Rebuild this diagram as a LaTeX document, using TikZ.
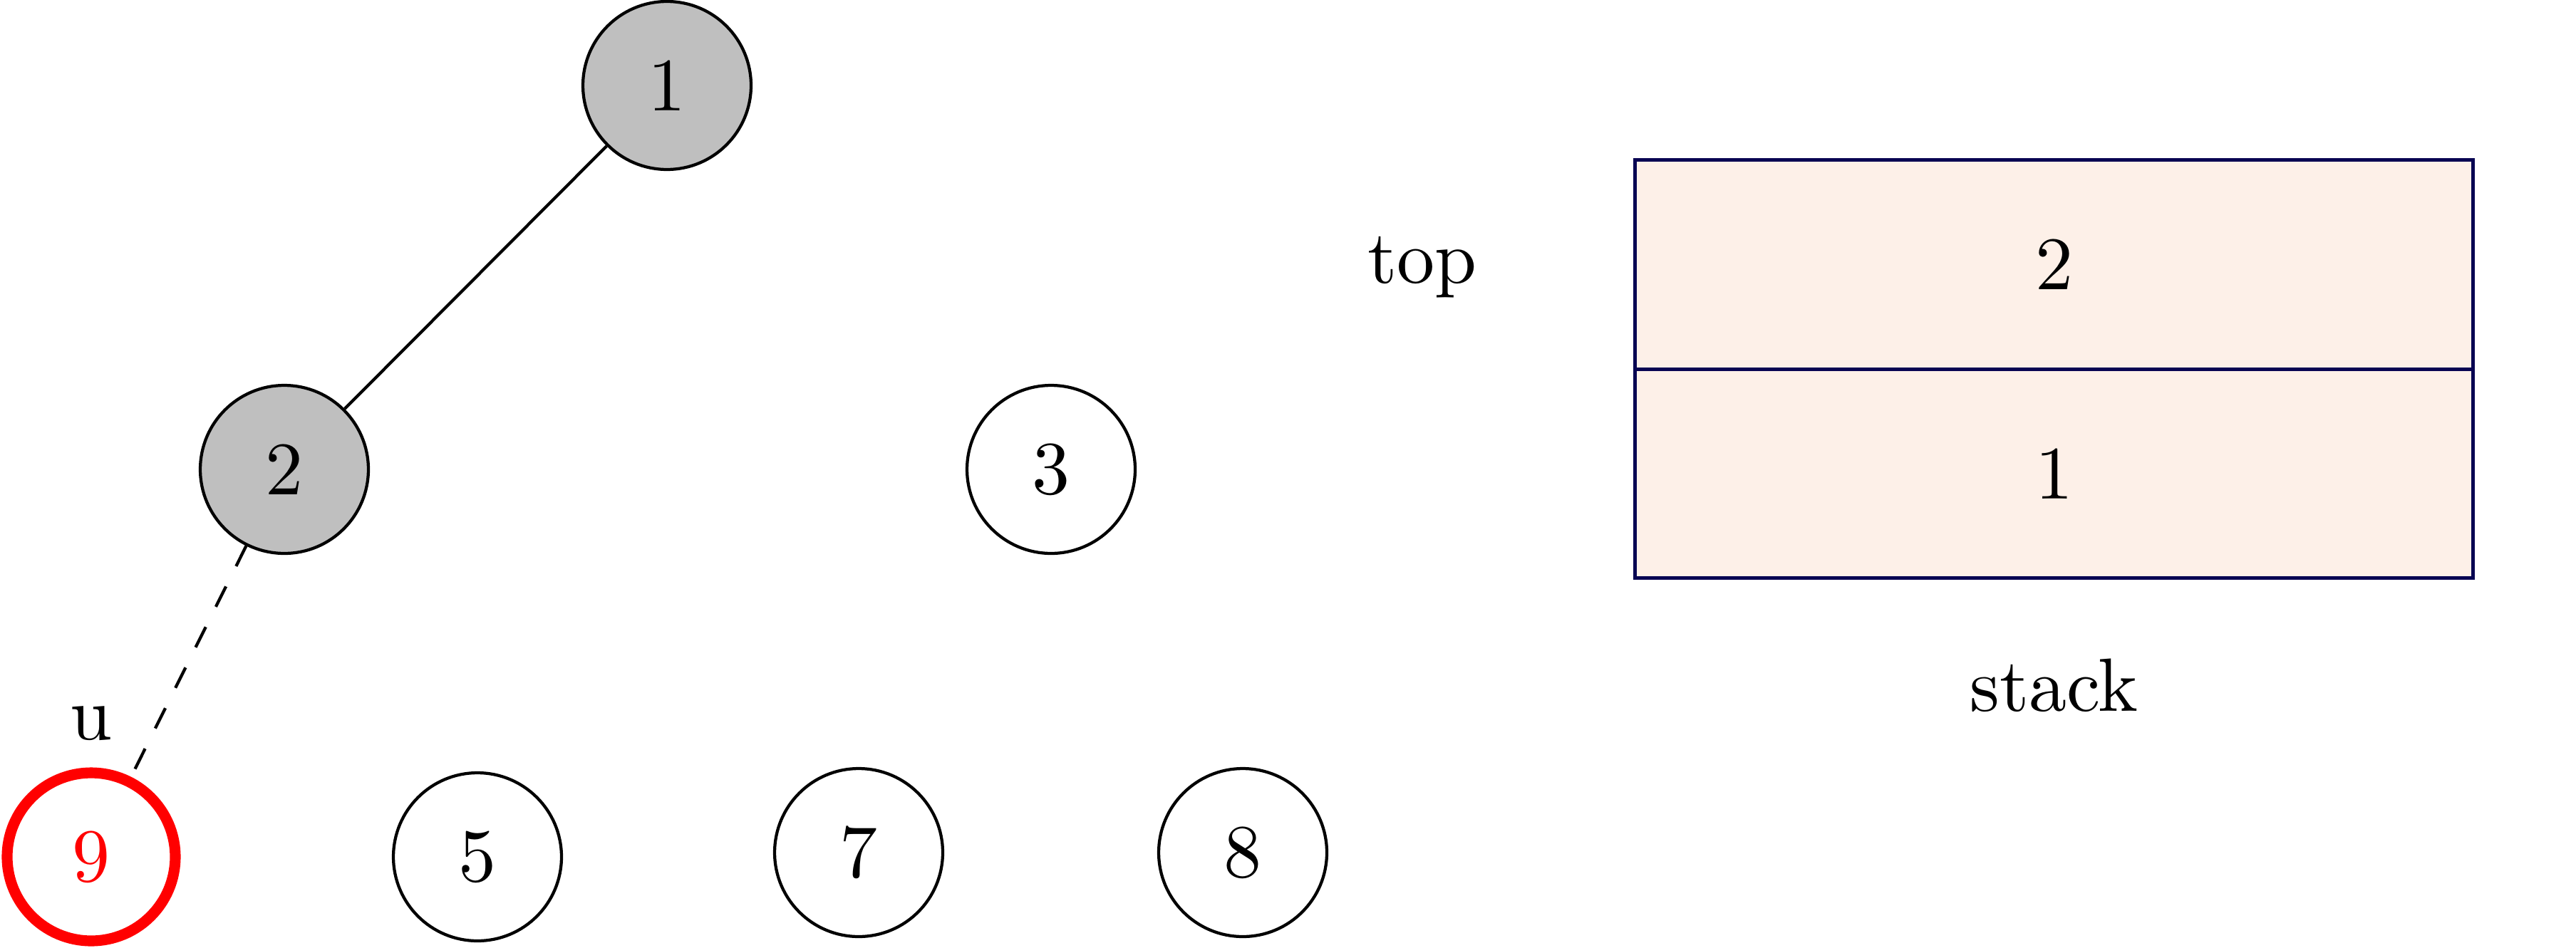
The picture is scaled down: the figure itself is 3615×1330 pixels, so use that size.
\documentclass[tikz,border=0pt]{standalone}
\usetikzlibrary{positioning}
\definecolor{boxline}{RGB}{8,4,82}
\definecolor{boxfill}{RGB}{253,240,232}
\begin{document}
\begin{tikzpicture}[x=0.09434pt,y=-0.09434pt,
  vertex/.style={circle,draw=black,line width=0.4pt,minimum size=22.26pt,inner sep=0pt},
  visited/.style={vertex,fill=black!25},
  current/.style={vertex,draw=red,text=red,line width=1.43pt},
  cell/.style={rectangle,draw=boxline,fill=boxfill,line width=0.45pt,minimum width=111pt,minimum height=27.7pt,inner sep=0pt},
  treeedge/.style={draw=black,line width=0.4pt}]
\useasboundingbox (0,0) rectangle (3615,1330);
% tree nodes
\node[visited] (n1) at (936,120) {1};
\node[visited] (n2) at (399,659) {2};
\node[vertex]  (n3) at (1475,659) {3};
\node[current] (n9) at (128,1203) {9};
\node[vertex]  (n5) at (670,1203) {5};
\node[vertex]  (n7) at (1205,1197) {7};
\node[vertex]  (n8) at (1744,1197) {8};
\node[anchor=south] (ulab) at (n9.north) {u};
% edges
\draw[treeedge] (n1) -- (n2);
\draw[treeedge,dashed] (n2) -- (n9);
% stack
\node[cell] (s2) at (2882.5,371.5) {2};
\node[cell] (s1) at (2882.5,665) {1};
\node[anchor=base] (toplab) at (1996,397) {top};
\node[anchor=base] (stacklab) at (2882.5,998) {stack};
\end{tikzpicture}
\end{document}
